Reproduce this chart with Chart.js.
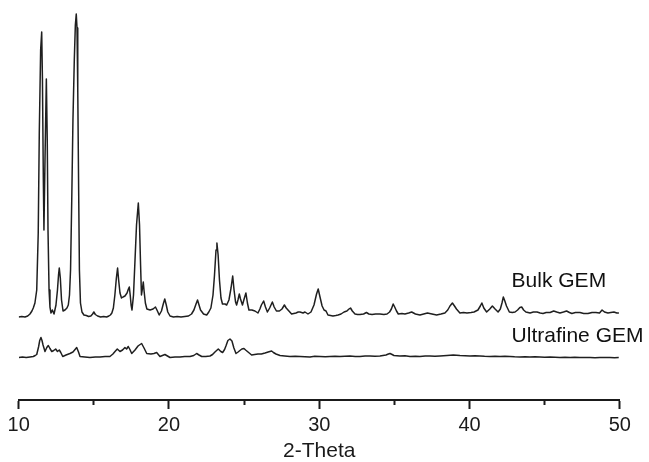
<!DOCTYPE html>
<html>
<head>
<meta charset="utf-8">
<script src="https://cdn.jsdelivr.net/npm/chart.js@4/dist/chart.umd.min.js"></script>
<style>
  html, body { margin: 0; padding: 0; background: #ffffff; }
  #wrap { width: 649px; height: 462px; }
</style>
</head>
<body>
<div id="wrap"><canvas id="c" width="649" height="462"></canvas></div>
<script>
// Series names
const seriesNames = ['Bulk GEM', 'Ultrafine GEM'];
// X-axis labelled ticks (2-Theta, degrees)
const xTickLabels = [10, 20, 30, 40, 50];

// Bulk GEM pattern: 2-Theta and relative intensity (a.u.)
const bulkTheta = [
  10.00, 10.20, 10.42, 10.60, 10.75, 10.88, 10.97, 11.08, 11.20, 11.30,
  11.37, 11.46, 11.53, 11.58, 11.64, 11.68, 11.75, 11.84, 11.90, 11.95,
  12.02, 12.08, 12.15, 12.24, 12.35, 12.48, 12.58, 12.65, 12.70, 12.77,
  12.85, 12.95, 13.08, 13.21, 13.30, 13.38, 13.45, 13.53, 13.61, 13.70,
  13.77, 13.83, 13.88, 13.93, 13.99, 14.04, 14.11, 14.21, 14.34, 14.50,
  14.65, 14.80, 14.92, 15.00, 15.10, 15.25, 15.45, 15.65, 15.85, 16.00,
  16.10, 16.20, 16.30, 16.40, 16.50, 16.58, 16.65, 16.74, 16.84, 16.94,
  17.07, 17.21, 17.30, 17.36, 17.42, 17.48, 17.54, 17.64, 17.74, 17.84,
  17.96, 18.04, 18.11, 18.17, 18.24, 18.29, 18.35, 18.43, 18.53, 18.74,
  18.94, 19.10, 19.20, 19.35, 19.50, 19.62, 19.72, 19.82, 19.92, 20.07,
  20.30, 20.55, 20.80, 21.05, 21.30, 21.50, 21.66, 21.80, 21.90, 22.00,
  22.10, 22.30, 22.51, 22.65, 22.79, 22.93, 23.03, 23.13, 23.19, 23.27,
  23.36, 23.46, 23.56, 23.73, 23.84, 23.99, 24.13, 24.24, 24.33, 24.43,
  24.50, 24.59, 24.68, 24.76, 24.89, 25.00, 25.12, 25.22, 25.32, 25.52,
  25.72, 25.92, 26.05, 26.15, 26.30, 26.42, 26.55, 26.70, 26.88, 27.00,
  27.15, 27.35, 27.52, 27.68, 27.80, 27.98, 28.16, 28.45, 28.60, 28.72,
  28.92, 29.05, 29.25, 29.45, 29.65, 29.82, 29.93, 30.05, 30.19, 30.32,
  30.45, 30.58, 30.75, 30.91, 31.10, 31.25, 31.45, 31.65, 31.84, 31.98,
  32.08, 32.20, 32.38, 32.55, 32.71, 32.95, 33.14, 33.30, 33.51, 33.75,
  34.04, 34.30, 34.51, 34.68, 34.80, 34.92, 35.02, 35.14, 35.26, 35.50,
  35.70, 35.95, 36.15, 36.40, 36.70, 36.95, 37.20, 37.50, 37.81, 38.10,
  38.36, 38.55, 38.70, 38.86, 39.00, 39.13, 39.36, 39.60, 39.83, 40.10,
  40.30, 40.56, 40.72, 40.82, 40.95, 41.14, 41.35, 41.52, 41.70, 41.90,
  42.05, 42.16, 42.25, 42.35, 42.46, 42.65, 42.85, 43.03, 43.20, 43.35,
  43.47, 43.60, 43.75, 44.03, 44.25, 44.49, 44.70, 44.89, 45.10, 45.36,
  45.60, 45.80, 46.02, 46.25, 46.46, 46.65, 46.81, 47.05, 47.35, 47.60,
  47.88, 48.15, 48.41, 48.65, 48.82, 48.98, 49.21, 49.40, 49.61, 49.80,
  49.94
];
const bulkIntensity = [
  0, 0.5, 0, 1, 3, 6, 9, 14, 27, 84,
  184, 267, 285, 237, 137, 87, 157, 238, 177, 87,
  27, 10, 4, 7, 3, 12, 27, 42, 49, 39,
  17, 6, 7, 9, 12, 22, 47, 117, 197, 257,
  292, 303, 289, 227, 127, 47, 14, 5, 2, 1.5,
  0.5, 1, 3, 5, 2.5, 1, 0, 0.5, 0, 1,
  2, 4, 9, 22, 39, 49, 37, 24, 19, 20,
  21, 24, 28, 30, 22, 12, 7, 22, 57, 92,
  114, 92, 52, 22, 29, 35, 25, 14, 8, 7,
  8, 10, 7, 2, 6, 13, 18, 12, 5, 1,
  0, 0.5, 0, 0.5, 1, 3, 7, 13, 17, 12,
  7, 3, 2, 5, 9, 22, 42, 67, 74, 62,
  37, 19, 13, 13, 12, 17, 29, 41, 27, 15,
  12, 17, 23, 18, 12, 18, 24, 14, 7, 7,
  6, 4, 8, 12, 16, 10, 5, 9, 15, 10,
  6, 6, 8, 12, 9, 6, 3, 4, 5, 5,
  4, 5, 3, 5, 12, 23, 28, 20, 11, 7,
  6, 2, 1.5, 1, 1.5, 2, 3, 5, 6, 8,
  9, 6, 3, 2.5, 2.5, 3, 4.5, 3, 2.5, 3,
  3, 2.5, 3, 5, 8, 13, 10, 6, 3, 3.5,
  3, 4, 5, 3, 2, 3, 4, 3, 2, 3,
  4, 7, 11, 14, 11, 8, 4, 4.5, 4, 4.5,
  5, 7, 11, 14, 9, 5, 8, 11, 8, 5,
  8, 14, 20, 16, 11, 5, 4.5, 5, 7, 9.5,
  10, 7, 5, 4, 5, 5, 4, 3.5, 4.5, 4.5,
  6, 5, 4, 5, 6, 4.5, 3.5, 4.5, 4.5, 3.5,
  3.5, 4.5, 4.5, 4, 7, 5, 4, 4.5, 5, 4,
  4
];

// Ultrafine GEM pattern: 2-Theta and relative intensity (a.u.)
const ultraTheta = [
  10.02, 10.25, 10.50, 10.75, 10.97, 11.10, 11.20, 11.32, 11.40, 11.48,
  11.55, 11.62, 11.75, 11.87, 11.97, 12.08, 12.20, 12.33, 12.46, 12.58,
  12.70, 12.80, 12.93, 13.15, 13.41, 13.61, 13.75, 13.86, 13.98, 14.08,
  14.40, 14.74, 15.10, 15.41, 15.75, 16.07, 16.27, 16.41, 16.56, 16.74,
  16.91, 17.07, 17.18, 17.29, 17.40, 17.52, 17.74, 17.94, 18.08, 18.18,
  18.34, 18.52, 18.80, 19.00, 19.18, 19.40, 19.73, 20.07, 20.40, 20.73,
  21.05, 21.40, 21.65, 21.84, 22.00, 22.18, 22.45, 22.73, 22.90, 23.06,
  23.28, 23.45, 23.57, 23.70, 23.79, 23.92, 24.06, 24.19, 24.32, 24.46,
  24.60, 24.72, 24.85, 24.99, 25.10, 25.22, 25.50, 25.70, 25.92, 26.15,
  26.39, 26.60, 26.83, 26.95, 27.12, 27.39, 27.70, 28.05, 28.40, 28.72,
  29.05, 29.38, 29.70, 30.05, 30.40, 30.71, 31.05, 31.38, 31.70, 32.04,
  32.40, 32.71, 33.05, 33.38, 33.70, 34.04, 34.44, 34.60, 34.71, 34.85,
  34.97, 35.37, 35.70, 36.04, 36.40, 36.70, 37.05, 37.37, 37.70, 38.03,
  38.50, 38.92, 39.36, 39.70, 40.03, 40.35, 40.69, 41.00, 41.36, 41.70,
  42.03, 42.35, 42.69, 43.00, 43.36, 43.70, 44.02, 44.35, 44.69, 45.00,
  45.36, 45.70, 46.02, 46.35, 46.69, 47.00, 47.35, 47.70, 48.02, 48.35,
  48.68, 49.00, 49.34, 49.65, 49.93
];
const ultraIntensity = [
  -1, -0.5, -1, -0.5, 0, 1, 2, 9.5, 16, 19,
  16, 11.5, 5, 9, 11, 8, 5, 6, 7.5, 5,
  6.5, 4, 0, 1.5, 3, 4.5, 7, 9, 4.5, 0,
  -0.5, -1, -0.5, -0.5, 0, 0, 2.5, 5, 7.5, 5,
  6.5, 9, 7.5, 10, 7, 3, 6.5, 10.5, 12, 13,
  8.5, 3, 2.5, 3, 4, 0, 2, -1, -0.5, -0.5,
  0, 0, 1, 3, 1.5, 0, 0, 0.5, 2, 4.5,
  7.5, 5, 4, 7, 10.5, 16, 17.5, 15.5, 8.5, 3,
  4.5, 6, 7.5, 8, 6.5, 5, 1.5, 2, 2.5, 2.5,
  3.5, 4.5, 5.5, 4, 2.5, 1, 0.5, 0, 0.3, 0,
  -0.3, -0.5, 0.2, 0, -0.3, 0, 0.3, 0, 0.3, 0.5,
  0, 0, 0.4, 0.5, 0.2, 0.5, 1.5, 2.5, 3, 2,
  1, 0.5, 0.8, 0, 0.3, 0, 0.4, 0.5, 0.2, 0.5,
  1, 1.5, 1, 0.8, 0.5, 0.7, 0.5, 0.2, 0, 0.3,
  0, 0.2, 0, -0.3, -0.5, -0.2, -0.5, -0.3, -0.5, -0.7,
  -0.5, -0.8, -1, -0.7, -1, -0.8, -1, -0.9, -1, -1.2,
  -1, -1.1, -1, -1.2, -1
];

// Vertical stacking offset of the Bulk trace above the Ultrafine trace
const bulkOffset = 39.5;
// Label anchors (2-Theta, intensity units of the stacked plot)
const labelTheta = 42.8;
const bulkLabelLevel = 69.8;
const ultraLabelLevel = 14.2;

const lineColor = '#1f1f1f';
const axisColor = '#1a1a1a';
const fontFamily = '"Liberation Sans", Arial, sans-serif';

const bulkData = bulkTheta.map((t, i) => ({ x: t, y: bulkIntensity[i] + bulkOffset }));
const ultraData = ultraTheta.map((t, i) => ({ x: t, y: ultraIntensity[i] }));

const seriesLabelPlugin = {
  id: 'seriesLabels',
  afterDatasetsDraw(chart) {
    const { ctx, scales } = chart;
    const x = scales.x.getPixelForValue(labelTheta);
    ctx.save();
    ctx.fillStyle = '#111111';
    ctx.font = '21px ' + fontFamily;
    ctx.textAlign = 'left';
    ctx.textBaseline = 'alphabetic';
    ctx.fillText(seriesNames[0], x, scales.y.getPixelForValue(bulkLabelLevel));
    ctx.fillText(seriesNames[1], x, scales.y.getPixelForValue(ultraLabelLevel));
    ctx.restore();
  }
};

new Chart(document.getElementById('c'), {
  type: 'line',
  data: {
    datasets: [
      { label: seriesNames[0], data: bulkData, borderColor: lineColor, borderWidth: 1.5,
        pointRadius: 0, tension: 0, fill: false, borderJoinStyle: 'round' },
      { label: seriesNames[1], data: ultraData, borderColor: lineColor, borderWidth: 1.5,
        pointRadius: 0, tension: 0, fill: false, borderJoinStyle: 'round' }
    ]
  },
  options: {
    responsive: false,
    animation: false,
    events: [],
    layout: { padding: { left: 18.7, right: 29.2, top: 0, bottom: 0 } },
    plugins: { legend: { display: false }, tooltip: { enabled: false } },
    scales: {
      x: {
        type: 'linear',
        position: 'bottom',
        min: 10,
        max: 50,
        afterBuildTicks: (scale) => {
          const t = [];
          for (let i = 0; i < xTickLabels.length; i++) {
            t.push({ value: xTickLabels[i] });
            if (i < xTickLabels.length - 1) t.push({ value: (xTickLabels[i] + xTickLabels[i + 1]) / 2 });
          }
          scale.ticks = t;
        },
        ticks: {
          autoSkip: false,
          maxRotation: 0,
          padding: 6,
          color: axisColor,
          font: { family: fontFamily, size: 20, lineHeight: 1 },
          callback: (v) => (xTickLabels.includes(v) ? String(v) : '')
        },
        grid: {
          drawOnChartArea: false,
          drawTicks: true,
          tickLength: 9,
          tickWidth: 2,
          tickColor: axisColor,
          tickBorderDash: (ctx) => (ctx.tick && xTickLabels.includes(ctx.tick.value) ? [] : [4, 40])
        },
        border: { display: true, color: axisColor, width: 2 },
        title: {
          display: true,
          text: '2-Theta',
          color: axisColor,
          font: { family: fontFamily, size: 21, lineHeight: 1 },
          padding: { top: 0, bottom: 0 }
        }
      },
      y: {
        display: false,
        min: -43.5,
        max: 356.5
      }
    }
  },
  plugins: [seriesLabelPlugin]
});
</script>
</body>
</html>
